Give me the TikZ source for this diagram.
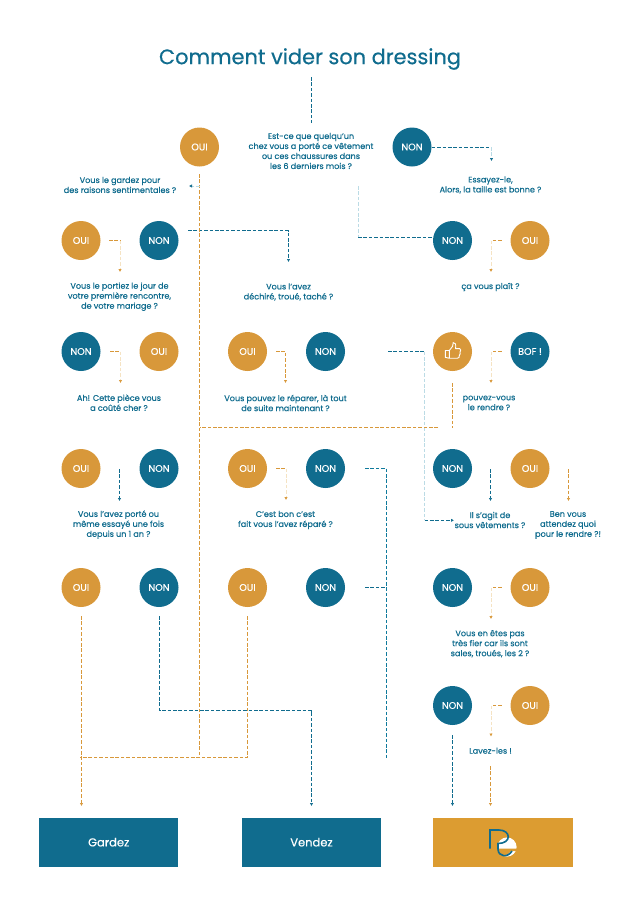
\documentclass[tikz,border=0pt]{standalone}
\usepackage{fontspec}
\setmainfont{Poppins}
\newfontfamily\mediumfont{Poppins}[FakeBold=0.5]
\usetikzlibrary{arrows.meta}
\definecolor{tealc}{HTML}{106C8E}
\definecolor{brightc}{HTML}{0F7A9C}
\definecolor{orangec}{HTML}{D8983A}
\definecolor{goldc}{HTML}{DC9C31}
\definecolor{paleteal}{HTML}{BBDBE5}
\definecolor{paleorange}{HTML}{F5E3C3}
\tikzset{
  rond/.style={circle, minimum size=39pt, inner sep=0pt, text=white, font=\mediumfont\fontsize{9.6}{10}\selectfont},
  rondoui/.style={rond, fill=orangec},
  rondnon/.style={rond, fill=tealc},
  question/.style={align=center, inner sep=0pt, text=tealc, font=\mediumfont\fontsize{8.1}{10}\selectfont},
  boite/.style={minimum width=139.5pt, minimum height=49pt, inner sep=0pt, text=white, font=\mediumfont\fontsize{11.5}{12}\selectfont},
  lien/.style={line width=0.8pt, dash pattern=on 3.6pt off 1.8pt},
  liento/.style={lien, -{Latex[length=3pt,width=3.4pt]}},
  paleto/.style={lien, paleorange, -{Latex[length=3pt,width=3.4pt,color=orangec]}},
  paleleft/.style={lien, paleteal, -{Latex[length=3pt,width=3.4pt,color=tealc]}},
}
\begin{document}
\begin{tikzpicture}[x=1pt, y=-1pt]
  \useasboundingbox (0,0) rectangle (641,924);
  \node[text=tealc, inner sep=0pt, font=\mediumfont\fontsize{20.9}{26}\selectfont] (titre) at (310,59) {Comment vider son dressing};
  % ronds
  \foreach \nom/\x/\y in {oA/199.5/147, oB/81/240.5, oC/530/240.5, oD/159/351.5, oE/247.5/351.5, oF/81/468.5, oG/247.5/468.5, oH/530/468.5, oI/81/587.5, oJ/247.5/587.5, oK/530/587.5, oL/530/705.5}
    \node[rondoui] (\nom) at (\x,\y) {OUI};
  \foreach \nom/\x/\y in {nA/412/147, nB/159/240.5, nC/452.5/240.5, nD/81/351.5, nE/325.5/351.5, nF/159/468.5, nG/325.5/468.5, nH/452.5/468.5, nI/159/587.5, nJ/325.5/587.5, nK/452.5/587.5, nL/452.5/705.5}
    \node[rondnon] (\nom) at (\x,\y) {NON};
  \node[rondnon] (bof) at (530,351.5) {BOF !};
  \node[rond, fill=orangec] (pouce) at (452.5,351.5) {};
  \draw[white, line width=0.9pt, line join=round] (445.3,350.5) -- (449.3,350.5) -- (452.6,346.3) -- (453.2,342.6) .. controls (455.2,342.2) and (456.2,344) .. (455.6,348.6) -- (459.6,348.6) .. controls (461.2,348.8) and (461,351) .. (460,352) .. controls (460.6,353.4) and (460,354.8) .. (459.4,355.2) .. controls (459.6,357) and (458.8,358.2) .. (457.6,358.2) -- (449.3,358.2) -- (445.3,357.4) -- cycle (449.3,350.5) -- (449.3,358.2);
  % questions
  \node[question] (q1) at (311,151) {Est-ce que quelqu’un\\chez vous a porté ce vêtement\\ou ces chaussures dans\\les 6 derniers mois ?};
  \node[question] (q2) at (120,185) {Vous le gardez pour\\des raisons sentimentales ?};
  \node[question] (q3) at (490.5,185) {Essayez-le,\\Alors, la taille est bonne ?};
  \node[question] (q4) at (119.5,296.7) {Vous le portiez le jour de\\votre première rencontre,\\de votre mariage ?};
  \node[question] (q5) at (288.5,292) {Vous l’avez\\déchiré, troué, taché ?};
  \node[question] (q6) at (490.5,287) {ça vous plaît ?};
  \node[question] (q7) at (119,402.7) {Ah! Cette pièce vous\\a coûté cher ?};
  \node[question] (q8) at (285.5,403) {Vous pouvez le réparer, là tout\\de suite maintenant ?};
  \node[question] (q9) at (489,403) {pouvez-vous\\le rendre ?};
  \node[question] (q10) at (118.5,524.7) {Vous l’avez porté ou\\même essayé une fois\\depuis un 1 an ?};
  \node[question] (q11) at (285.5,520) {C’est bon c’est\\fait vous l’avez réparé ?};
  \node[question] (q12) at (490,520) {Il s’agit de\\sous vêtements ?};
  \node[question] (q13) at (568,525) {Ben vous\\attendez quoi\\pour le rendre ?!};
  \node[question] (q14) at (490,643.7) {Vous en êtes pas\\très fier car ils sont\\sales, troués, les 2 ?};
  \node[question] (q15) at (490.5,750.7) {Lavez-les !};
  % boites
  \node[boite, fill=tealc] (gardez) at (108.7,842.2) {Gardez};
  \node[boite, fill=tealc] (vendez) at (311.5,842.2) {Vendez};
  \node[boite, fill=goldc] (marque) at (503,842.7) {};
  \fill[white] (507,847) circle (9.6pt);
  \fill[goldc] (497,848.7) -- (518,848.7) -- (518,851) -- (511,851) .. controls (508,857) and (498,857) .. (497,850) -- cycle;
  \draw[tealc, line width=1.6pt] (490,848.5) -- (490,830) -- (499,830) .. controls (511,830) and (512,843.5) .. (498,843.5) -- (498,849) .. controls (498,857) and (508,858) .. (512,851);
  % points libres
  \foreach \nom/\x/\y in {a1/311/77, a2/311/123, b1/199.5/174, b2/199.5/757.5, b3/199.5/186, b4/189/186,
    c1/491.5/147, c2/491.5/161, d1/358/186, d2/358/237, d6/433.5/237, d3/188/230.5, d4/288.5/230.5, d5/288.5/262,
    e1/109/240.5, e2/120/240.5, e3/120/272, f1/501.5/240.5, f2/491/240.5, f3/491/272,
    g1/110/351.5, g2/120.5/351.5, g3/120.5/383, h1/276/351.5, h2/285.5/351.5, h3/285.5/383,
    i1/388/351.5, i2/424.5/351.5, i3/424.5/520.3, i4/454/520.3, j1/452.5/383, j2/452.5/427.7, j3/438/427.5, j4/199.5/427.5,
    k1/501.5/351.5, k2/491/351.5, k3/491/383, l1/119.5/469, l2/119.5/501, m1/276/468.5, m2/286/468.5, m3/286/500,
    o1/365/468.5, o2/386.5/468.5, o3/386.5/759, p1/490.5/469, p2/490.5/501, r1/568.5/469, r2/568.5/501,
    s1/365/587.5, s2/386.5/587.5, t1/501.5/587.5, t2/491/587.5, t3/491/619,
    u1/81.5/616, u2/81.5/806, v1/159.5/616, v2/159.5/710.5, v3/311.5/710.5, v4/311.5/806,
    w1/247.5/616, w2/247.5/757.5, w3/80/757.5, x1/501.5/705.5, x2/491/705.5, x3/491/736.5,
    y1/452.5/735, y2/452.5/806, z1/490.5/766, z2/490.5/806}
    \coordinate (\nom) at (\x,\y);
  % liens bleus
  \draw[lien, tealc] (a1) -- (a2);
  \draw[lien, tealc] (nA.east) -- (c1);
  \draw[paleleft] (c1) -- (c2);
  \draw[lien, paleteal] (d1) -- (d2);
  \draw[lien, tealc] (d2) -- (d6);
  \draw[liento, tealc] (d3) -- (d4) -- (d5);
  \draw[lien, tealc] (i1) -- (i2);
  \draw[lien, paleteal] (i2) -- (i3);
  \draw[liento, tealc] (i3) -- (i4);
  \draw[liento, tealc] (l1) -- (l2);
  \draw[liento, tealc] (p1) -- (p2);
  \draw[lien, brightc] (o1) -- (o2) -- (o3);
  \draw[lien, tealc] (s1) -- (s2);
  \draw[liento, tealc] (v1) -- (v2) -- (v3) -- (v4);
  \draw[liento, tealc] (y1) -- (y2);
  % liens orange
  \draw[lien, orangec] (b1) -- (b2);
  \draw[paleleft] (b3) -- (b4);
  \draw[lien, orangec] (e1) -- (e2);
  \draw[paleto] (e2) -- (e3);
  \draw[lien, orangec] (f1) -- (f2);
  \draw[paleto] (f2) -- (f3);
  \draw[lien, orangec] (g1) -- (g2);
  \draw[paleto] (g2) -- (g3);
  \draw[liento, orangec] (h1) -- (h2) -- (h3);
  \draw[lien, orangec] (j1) -- (j2);
  \draw[lien, orangec] (j3) -- (j4);
  \draw[lien, orangec] (k1) -- (k2);
  \draw[paleto] (k2) -- (k3);
  \draw[lien, orangec] (m1) -- (m2);
  \draw[paleto] (m2) -- (m3);
  \draw[liento, orangec] (r1) -- (r2);
  \draw[lien, orangec] (t1) -- (t2);
  \draw[paleto] (t2) -- (t3);
  \draw[liento, orangec] (u1) -- (u2);
  \draw[lien, orangec] (w1) -- (w2) -- (w3);
  \draw[lien, orangec] (x1) -- (x2);
  \draw[paleto] (x2) -- (x3);
  \draw[liento, orangec] (z1) -- (z2);
\end{tikzpicture}
\end{document}
